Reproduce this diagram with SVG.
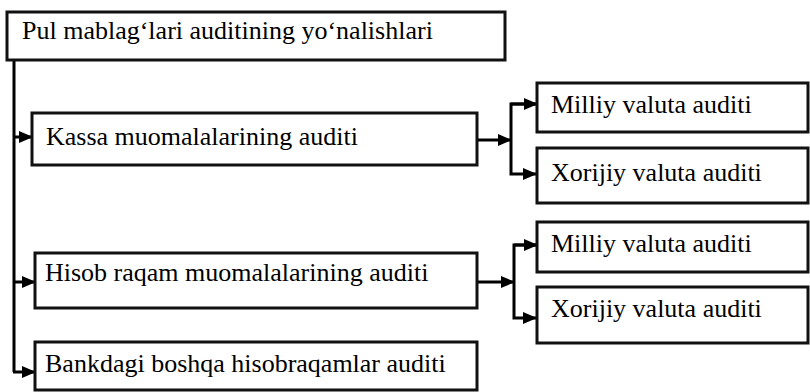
<svg xmlns="http://www.w3.org/2000/svg" width="810" height="392" viewBox="0 0 810 392">
  <style>
    .box { fill: #ffffff; stroke: #111111; stroke-width: 3; }
    .lbl { font-family: 'Liberation Serif', Tinos, 'Times New Roman', Times, serif; font-size: 26px; fill: #000000; }
    .wire { fill: none; stroke: #000000; stroke-width: 3; }
  </style>
  <defs>
    <marker id="arrow" markerUnits="userSpaceOnUse" markerWidth="14" markerHeight="12" refX="13" refY="6" orient="auto">
      <path d="M0,0 L14,6 L0,12 Z" fill="#000000"/>
    </marker>
  </defs>

  <rect width="810" height="392" fill="#ffffff"/>

  <!-- connectors -->
  <g id="connectors">
    <polyline class="wire" points="14,60 14,372"/>
    <line class="wire" x1="13" y1="137" x2="32" y2="137" marker-end="url(#arrow)"/>
    <line class="wire" x1="13" y1="282" x2="35" y2="282" marker-end="url(#arrow)"/>
    <line class="wire" x1="13" y1="372" x2="35" y2="372" marker-end="url(#arrow)"/>

    <line class="wire" x1="477" y1="140" x2="511" y2="140" marker-end="url(#arrow)"/>
    <polyline class="wire" points="536,104 511,104 511,174 536,174" marker-end="url(#arrow)"/>
    <line class="wire" x1="511" y1="104" x2="537" y2="104" marker-end="url(#arrow)"/>

    <line class="wire" x1="477" y1="282" x2="514" y2="282" marker-end="url(#arrow)"/>
    <polyline class="wire" points="536,245 514,245 514,318 536,318" marker-end="url(#arrow)"/>
    <line class="wire" x1="514" y1="245" x2="537" y2="245" marker-end="url(#arrow)"/>
  </g>

  <!-- nodes -->
  <g id="root">
    <rect class="box" x="7" y="12" width="498" height="48"/>
    <text class="lbl" font-family="Liberation Serif" x="22" y="39">Pul mablag‘lari auditining yo‘nalishlari</text>
  </g>

  <g id="kassa">
    <rect class="box" x="32" y="113" width="445" height="52"/>
    <text class="lbl" x="46" y="145">Kassa muomalalarining auditi</text>
  </g>

  <g id="kassa-milliy">
    <rect class="box" x="537" y="83" width="271" height="49"/>
    <text class="lbl" x="551" y="113">Milliy valuta auditi</text>
  </g>

  <g id="kassa-xorijiy">
    <rect class="box" x="537" y="148" width="271" height="55"/>
    <text class="lbl" x="551" y="181">Xorijiy valuta auditi</text>
  </g>

  <g id="hisob">
    <rect class="box" x="35" y="253" width="442" height="55"/>
    <text class="lbl" x="45" y="281">Hisob raqam muomalalarining auditi</text>
  </g>

  <g id="hisob-milliy">
    <rect class="box" x="537" y="222" width="271" height="50"/>
    <text class="lbl" x="551" y="252">Milliy valuta auditi</text>
  </g>

  <g id="hisob-xorijiy">
    <rect class="box" x="537" y="287" width="271" height="56"/>
    <text class="lbl" x="551" y="317">Xorijiy valuta auditi</text>
  </g>

  <g id="bankdagi">
    <rect class="box" x="35" y="342" width="442" height="48"/>
    <text class="lbl" x="45" y="372">Bankdagi boshqa hisobraqamlar auditi</text>
  </g>
</svg>
